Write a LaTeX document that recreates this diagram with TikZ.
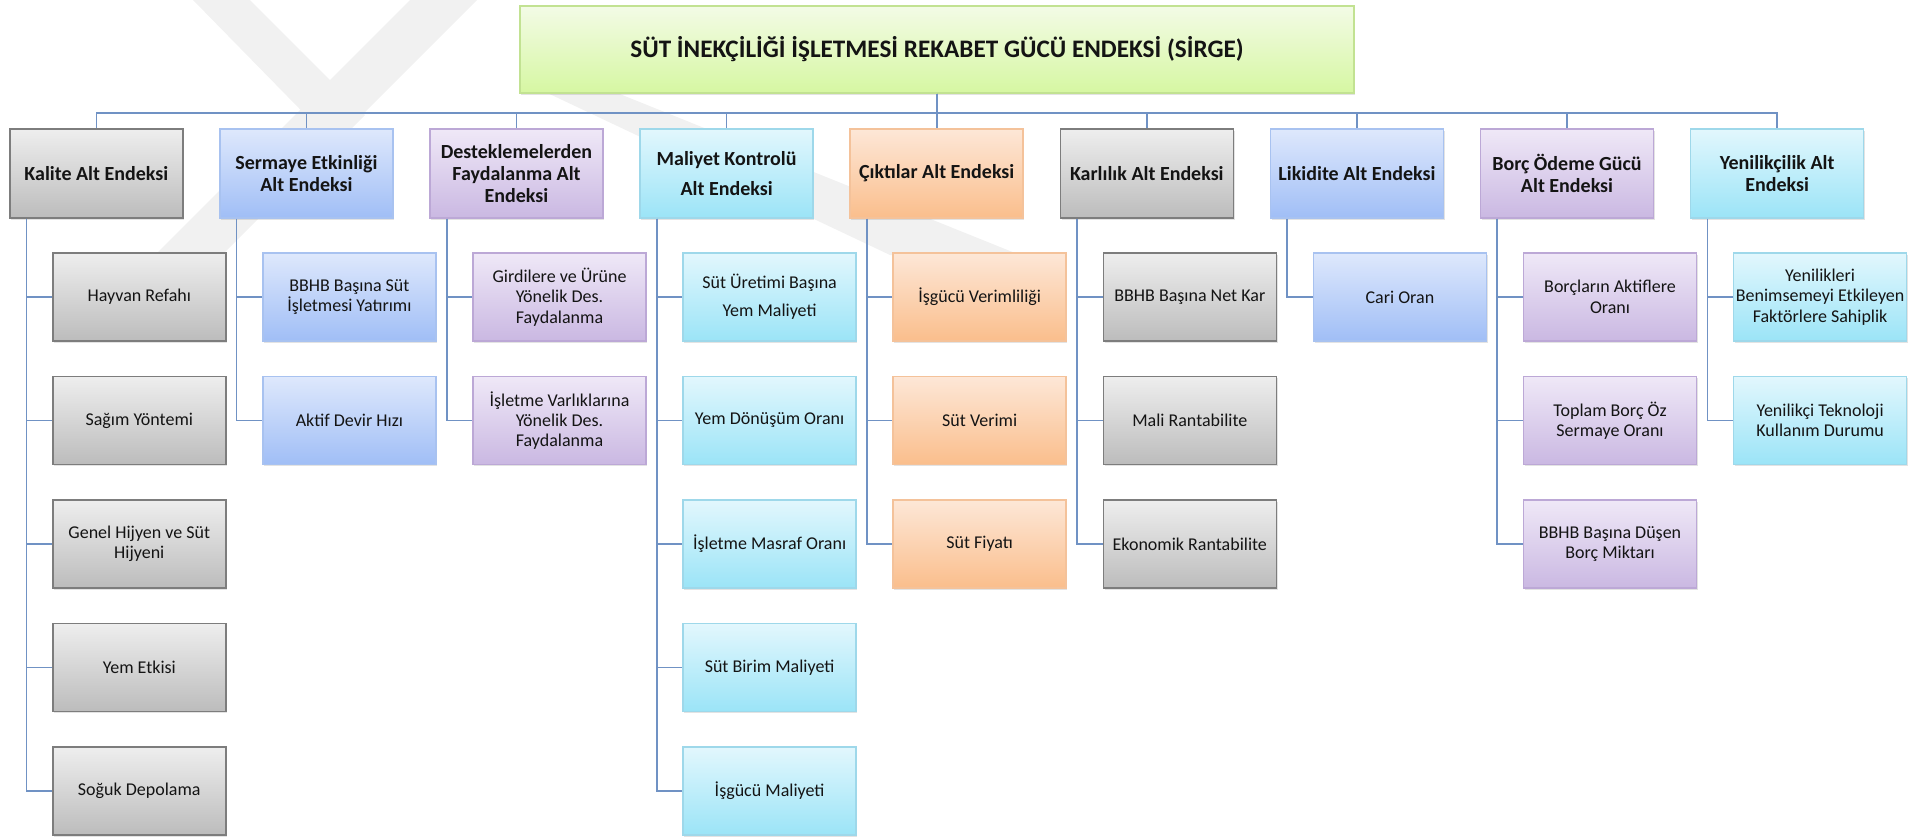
\documentclass[tikz,border=0pt]{standalone}
\usepackage{fontspec}
\setmainfont{Carlito}
\usetikzlibrary{positioning,calc,shadows}

\definecolor{bagmavi}{RGB}{112,146,196}
\definecolor{filigran}{RGB}{241,241,241}
\definecolor{griust}{RGB}{238,238,238}
\definecolor{grialt}{RGB}{188,188,188}
\definecolor{grikenar}{RGB}{125,125,125}
\definecolor{maviust}{RGB}{222,232,252}
\definecolor{mavialt}{RGB}{160,190,246}
\definecolor{mavikenar}{RGB}{168,194,240}
\definecolor{morust}{RGB}{239,232,247}
\definecolor{moralt}{RGB}{202,184,226}
\definecolor{morkenar}{RGB}{188,168,214}
\definecolor{turkust}{RGB}{226,247,253}
\definecolor{turkalt}{RGB}{155,228,247}
\definecolor{turkkenar}{RGB}{158,216,234}
\definecolor{turust}{RGB}{253,231,215}
\definecolor{turalt}{RGB}{250,190,140}
\definecolor{turkenar}{RGB}{244,194,154}
\definecolor{yesust}{RGB}{243,251,230}
\definecolor{yesalt}{RGB}{214,247,162}
\definecolor{yeskenar}{RGB}{194,226,146}

\tikzset{
  kutu/.style={rectangle, draw, line width=0.8pt, align=center, inner sep=1pt, text=black!92,
    drop shadow={shadow xshift=0.6pt, shadow yshift=-0.9pt, opacity=0.22}},
  ana/.style={kutu, minimum width=86.5pt, minimum height=44.5pt, font=\bfseries\fontsize{10}{11.2}\selectfont},
  alt/.style={kutu, minimum width=86.5pt, minimum height=44pt, font=\fontsize{9}{10.2}\selectfont},
  gri/.style={top color=griust, bottom color=grialt, draw=grikenar},
  mavi/.style={top color=maviust, bottom color=mavialt, draw=mavikenar},
  mor/.style={top color=morust, bottom color=moralt, draw=morkenar},
  turkuaz/.style={top color=turkust, bottom color=turkalt, draw=turkkenar},
  turuncu/.style={top color=turust, bottom color=turalt, draw=turkenar},
  yesil/.style={top color=yesust, bottom color=yesalt, draw=yeskenar},
  bag/.style={draw=bagmavi, line width=0.8pt}
}

\begin{document}
\begin{tikzpicture}[x=0.5pt,y=-0.5pt]
\useasboundingbox (0,0) rectangle (1928,837);
% filigran
\fill[filigran] (410,0) -- (477,0) -- (217,260) -- (150,260) -- cycle;
\fill[filigran] (193,0) -- (250,0) -- (365,115) -- (335,145) -- cycle;
\fill[filigran] (520,80) -- (585,80) -- (1020,255) -- (890,255) -- cycle;

% ana endeks
\node[kutu, yesil, minimum width=417pt, minimum height=43.5pt, font=\bfseries\fontsize{12.6}{15}\selectfont]
  (sirge) at (937,49.5) {SÜT İNEKÇİLİĞİ İŞLETMESİ REKABET GÜCÜ ENDEKSİ (SİRGE)};

% alt endeksler
\node[ana, gri] (kal) at (96.3,173.5) {Kalite Alt Endeksi};
\node[ana, mavi] (ser) at (306.4,173.5) {Sermaye Etkinliği\\Alt Endeksi};
\node[ana, mor] (des) at (516.5,173.5) {Desteklemelerden\\Faydalanma Alt\\Endeksi};
\node[ana, turkuaz] (mal) at (726.6,173.5) {Maliyet Kontrolü\\[4.1pt]Alt Endeksi};
\node[ana, turuncu] (cik) at (936.7,173.5) {Çıktılar Alt Endeksi};
\node[ana, gri] (kar) at (1146.8,173.5) {Karlılık Alt Endeksi};
\node[ana, mavi] (lik) at (1356.9,173.5) {Likidite Alt Endeksi};
\node[ana, mor] (bor) at (1567,173.5) {Borç Ödeme Gücü\\Alt Endeksi};
\node[ana, turkuaz] (yen) at (1777.1,173.5) {Yenilikçilik Alt\\Endeksi};

% gostergeler
\node[alt, gri] (kal1) at (139.3,297) {Hayvan Refahı};
\node[alt, gri] (kal2) at (139.3,420.5) {Sağım Yöntemi};
\node[alt, gri] (kal3) at (139.3,544) {Genel Hijyen ve Süt\\Hijyeni};
\node[alt, gri] (kal4) at (139.3,667.5) {Yem Etkisi};
\node[alt, gri] (kal5) at (139.3,791) {Soğuk Depolama};

\node[alt, mavi] (ser1) at (349.4,297) {BBHB Başına Süt\\İşletmesi Yatırımı};
\node[alt, mavi] (ser2) at (349.4,420.5) {Aktif Devir Hızı};

\node[alt, mor] (des1) at (559.5,297) {Girdilere ve Ürüne\\Yönelik Des.\\Faydalanma};
\node[alt, mor] (des2) at (559.5,420.5) {İşletme Varlıklarına\\Yönelik Des.\\Faydalanma};

\node[alt, turkuaz] (mal1) at (769.6,297) {Süt Üretimi Başına\\[3.8pt]Yem Maliyeti};
\node[alt, turkuaz] (mal2) at (769.6,420.5) {Yem Dönüşüm Oranı};
\node[alt, turkuaz] (mal3) at (769.6,544) {İşletme Masraf Oranı};
\node[alt, turkuaz] (mal4) at (769.6,667.5) {Süt Birim Maliyeti};
\node[alt, turkuaz] (mal5) at (769.6,791) {İşgücü Maliyeti};

\node[alt, turuncu] (cik1) at (979.7,297) {İşgücü Verimliliği};
\node[alt, turuncu] (cik2) at (979.7,420.5) {Süt Verimi};
\node[alt, turuncu] (cik3) at (979.7,544) {Süt Fiyatı};

\node[alt, gri] (kar1) at (1189.8,297) {BBHB Başına Net Kar};
\node[alt, gri] (kar2) at (1189.8,420.5) {Mali Rantabilite};
\node[alt, gri] (kar3) at (1189.8,544) {Ekonomik Rantabilite};

\node[alt, mavi] (lik1) at (1399.9,297) {Cari Oran};

\node[alt, mor] (bor1) at (1610,297) {Borçların Aktiflere\\Oranı};
\node[alt, mor] (bor2) at (1610,420.5) {Toplam Borç Öz\\Sermaye Oranı};
\node[alt, mor] (bor3) at (1610,544) {BBHB Başına Düşen\\Borç Miktarı};

\node[alt, turkuaz] (yen1) at (1820.1,297) {Yenilikleri\\Benimsemeyi Etkileyen\\Faktörlere Sahiplik};
\node[alt, turkuaz] (yen2) at (1820.1,420.5) {Yenilikçi Teknoloji\\Kullanım Durumu};

% baglantilar
\foreach \p in {kal,ser,des,mal,cik,kar,lik,bor,yen}
  \draw[bag] (sirge.south) -- ++(0,19) -| (\p.north);
\foreach \p/\n in {kal/5,ser/2,des/2,mal/5,cik/3,kar/3,lik/1,bor/3,yen/2}
  \foreach \k in {1,...,\n}
    \draw[bag] ($(\p.south west)+(17.5,0)$) |- (\p\k.west);
\end{tikzpicture}
\end{document}
